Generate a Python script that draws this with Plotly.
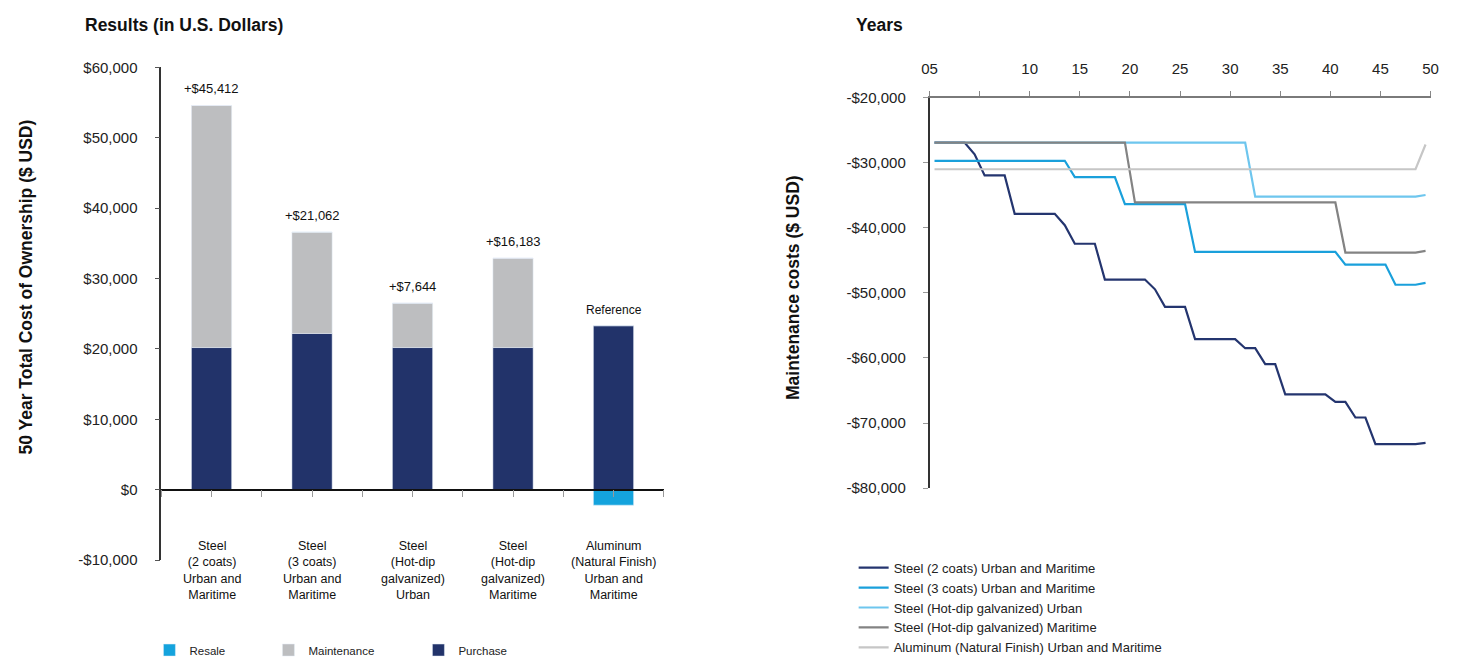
import plotly.graph_objects as go

W, H = 1462, 665

# ---------------- Left chart data ----------------
categories = [
    "Steel<br>(2 coats)<br>Urban and<br>Maritime",
    "Steel<br>(3 coats)<br>Urban and<br>Maritime",
    "Steel<br>(Hot-dip<br>galvanized)<br>Urban",
    "Steel<br>(Hot-dip<br>galvanized)<br>Maritime",
    "Aluminum<br>(Natural Finish)<br>Urban and<br>Maritime",
]
purchase = [20200, 22200, 20200, 20200, 23300]
maintenance = [34400, 14400, 6300, 12700, 0]
resale = [0, 0, 0, 0, -2200]
bar_labels = ["+$45,412", "+$21,062", "+$7,644", "+$16,183", "Reference"]
cost_ticks = [-10000, 0, 10000, 20000, 30000, 40000, 50000, 60000]

# ---------------- Right chart data ----------------
years = list(range(1, 51))
steel_2_coats = ([-26900] * 4 + [-28700] + [-31950] * 3 + [-37850] * 5 + [-39600]
                 + [-42450] * 3 + [-47950] * 5 + [-49450] + [-52150] * 3
                 + [-57100] * 5 + [-58500] * 2 + [-60950] * 2 + [-65600] * 5
                 + [-66750] * 2 + [-69150] * 2 + [-73250] * 5 + [-73050])
steel_3_coats = ([-29700] * 14 + [-32200] * 5 + [-36350] * 7 + [-43700] * 15
                 + [-45650] * 5 + [-48750] * 3 + [-48450])
hdg_urban = [-26900] * 32 + [-35200] * 17 + [-34950]
hdg_maritime = [-26900] * 20 + [-36100] * 21 + [-43800] * 8 + [-43550]
aluminum = [-31000] * 49 + [-27200]
maint_ticks = [-80000, -70000, -60000, -50000, -40000, -30000, -20000]
year_ticks = [0, 5, 10, 15, 20, 25, 30, 35, 40, 45, 50]
year_tick_labels = ["05", "", "10", "15", "20", "25", "30", "35", "40", "45", "50"]

line_series = [
    ("Steel (2 coats) Urban and Maritime", steel_2_coats, "#24356F"),
    ("Steel (3 coats) Urban and Maritime", steel_3_coats, "#1AA0DB"),
    ("Steel (Hot-dip galvanized) Urban", hdg_urban, "#6EC6EE"),
    ("Steel (Hot-dip galvanized) Maritime", hdg_maritime, "#838383"),
    ("Aluminum (Natural Finish) Urban and Maritime", aluminum, "#C6C6C6"),
]


def money(v):
    return ("-" if v < 0 else "") + "${:,}".format(abs(v))


FONT = "Liberation Sans, Arial, Helvetica, sans-serif"
NAVY = "#22336A"
GRAY = "#BDBEC0"
BLUE = "#14A3DD"

idx = list(range(len(categories)))
fig = go.Figure()

fig.add_trace(go.Bar(x=idx, y=purchase, name="Purchase", marker_color=NAVY,
                     width=0.4, xaxis="x", yaxis="y", legend="legend", legendwidth=60))
fig.add_trace(go.Bar(x=idx, y=maintenance, name="Maintenance", marker_color=GRAY,
                     width=0.4, xaxis="x", yaxis="y", legend="legend", legendwidth=105))
fig.add_trace(go.Bar(x=idx, y=resale, name="Resale", marker_color=BLUE,
                     width=0.4, xaxis="x", yaxis="y", legend="legend", legendwidth=74))

for name, vals, col in line_series:
    fig.add_trace(go.Scatter(x=years, y=vals, mode="lines", name=name,
                             line=dict(color=col, width=2.2),
                             xaxis="x2", yaxis="y2", legend="legend2"))


def px_x(p):
    return p / W


def px_y(p):
    return 1 - p / H


annotations = []
# bar top labels
for i, lab in enumerate(bar_labels):
    top = purchase[i] + maintenance[i]
    annotations.append(dict(x=i, y=top, xref="x", yref="y", text=lab, showarrow=False,
                            yanchor="bottom", yshift=7,
                            font=dict(size=12 if lab == "Reference" else 13, color="#111", family=FONT)))
# category labels
for i, cat in enumerate(categories):
    annotations.append(dict(x=i, y=px_y(576), xref="x", yref="paper", text=cat, showarrow=False,
                            yanchor="middle", xanchor="center",
                            font=dict(size=12.5, color="#111", family=FONT)))
# titles
annotations += [
    dict(x=px_x(76), y=px_y(16), xref="paper", yref="paper", text="<b>Results (in U.S. Dollars)</b>",
         showarrow=False, xanchor="left", yanchor="middle", font=dict(size=17.5, color="#111", family=FONT)),
    dict(x=px_x(855), y=px_y(16), xref="paper", yref="paper", text="<b>Years</b>",
         showarrow=False, xanchor="left", yanchor="middle", font=dict(size=17.5, color="#111", family=FONT)),
    dict(x=px_x(18), y=px_y(285), xref="paper", yref="paper",
         text="<b>50 Year Total Cost of Ownership ($ USD)</b>", textangle=-90,
         showarrow=False, xanchor="center", yanchor="middle", font=dict(size=17.5, color="#111", family=FONT)),
    dict(x=px_x(793), y=px_y(286), xref="paper", yref="paper",
         text="<b>Maintenance costs ($ USD)</b>", textangle=-90,
         showarrow=False, xanchor="center", yanchor="middle", font=dict(size=17.5, color="#111", family=FONT)),
]

fig.update_layout(
    width=W, height=H,
    margin=dict(l=0, r=0, t=0, b=0),
    paper_bgcolor="white", plot_bgcolor="white",
    barmode="relative",
    font=dict(family=FONT, color="#222", size=15),
    annotations=annotations,
    xaxis=dict(domain=[px_x(155), px_x(663)], range=[-0.5, 4.5], anchor="free",
               position=px_y(493.3), showline=True, linecolor="#111", linewidth=1.5,
               ticks="outside", ticklen=7, tickcolor="#999", tickwidth=1.2,
               tick0=-0.5, dtick=0.5, showticklabels=False, showgrid=False, zeroline=False,
               fixedrange=True),
    yaxis=dict(domain=[px_y(565.5), px_y(60)], range=[-10000, 60000], anchor="x",
               showline=True, linecolor="#333", linewidth=1.5, ticks="outside", ticklen=5,
               tickcolor="#555", tickvals=cost_ticks, ticktext=[money(v) for v in cost_ticks],
               ticklabelstandoff=14, showgrid=False, zeroline=False,
               tickfont=dict(size=15, color="#222")),
    xaxis2=dict(domain=[px_x(931.7), px_x(1438.3)], range=[0.5, 50.5], anchor="y2", side="top",
                showline=True, linecolor="#7A7A7A", linewidth=2, ticks="outside", ticklen=5,
                tickcolor="#888", tickvals=[t + 0.5 for t in year_ticks], ticktext=year_tick_labels,
                ticklabelstandoff=11, showgrid=False, zeroline=False,
                tickfont=dict(size=15, color="#222")),
    yaxis2=dict(domain=[px_y(491.7), px_y(91)], range=[-80000, -20000], anchor="x2",
                showline=True, linecolor="#333", linewidth=1.5, ticks="outside", ticklen=5,
                tickcolor="#999", tickvals=maint_ticks, ticktext=[money(v) for v in maint_ticks],
                ticklabelstandoff=14, showgrid=False, zeroline=False,
                tickfont=dict(size=15, color="#222")),
    legend=dict(orientation="h", x=px_x(143), y=px_y(643), xanchor="left", yanchor="top",
                traceorder="reversed", font=dict(size=11.5, color="#222"),
                bgcolor="rgba(0,0,0,0)", itemclick=False),
    legend2=dict(orientation="v", x=px_x(855), y=px_y(558), xanchor="left", yanchor="top",
                 font=dict(size=13, color="#222"), bgcolor="rgba(0,0,0,0)",
                 tracegroupgap=0, itemclick=False),
    showlegend=True,
)

fig.write_html("out.html")
